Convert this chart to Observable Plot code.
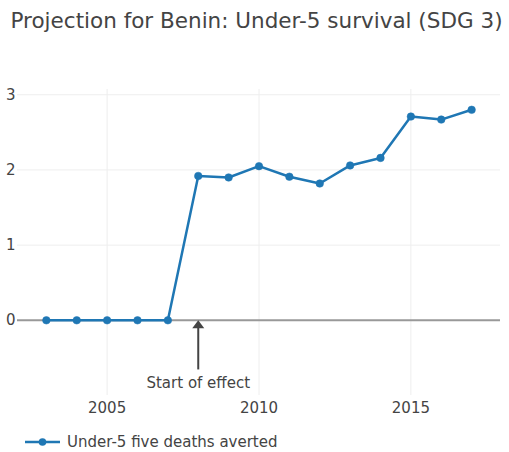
<!DOCTYPE html>
<html>
<head>
<meta charset="utf-8">
<script src="https://cdn.jsdelivr.net/npm/d3@7"></script>
<script src="https://cdn.jsdelivr.net/npm/@observablehq/plot@0.6"></script>
<style>
  html, body { margin: 0; padding: 0; background: #fff; }
  body { width: 509px; height: 452px; position: relative; overflow: hidden; font-family: "DejaVu Sans", Verdana, sans-serif; color: #444; }
  #title { position: absolute; left: 10.5px; top: 8px; font-size: 21.5px; white-space: nowrap; color: #444; }
  #chart { position: absolute; left: 0; top: 45px; }
  #legend { position: absolute; left: 25px; top: 433px; font-size: 15px; display: flex; align-items: center; white-space: nowrap; color: #444; }
  #legend svg { margin-right: 7px; }
</style>
</head>
<body>
<div id="title">Projection for Benin: Under-5 survival (SDG 3)</div>
<div id="chart"></div>
<div id="legend"></div>
<script>
const years = [2003, 2004, 2005, 2006, 2007, 2008, 2009, 2010, 2011, 2012, 2013, 2014, 2015, 2016, 2017];
const deathsAverted = [0, 0, 0, 0, 0, 1.92, 1.90, 2.05, 1.91, 1.82, 2.06, 2.16, 2.71, 2.67, 2.80];
const seriesName = "Under-5 five deaths averted";
const xTicks = [2005, 2010, 2015];
const yTicks = [0, 1, 2, 3];
const annotationYear = [2008];
const annotationTail = [-0.66];
const annotationTip = [0];
const annotationLabel = ["Start of effect"];
const annotationLabelY = [-0.84];

const data = years.map((y, i) => ({year: y, value: deathsAverted[i]}));
const annotation = annotationYear.map((y, i) => ({year: y, tail: annotationTail[i], tip: annotationTip[i], label: annotationLabel[i], labelY: annotationLabelY[i]}));

const lineColor = "#1f77b4";

// arrowhead symbol with its tip at the origin
const arrowHead = {
  draw(context, size) {
    context.moveTo(0, 0);
    context.lineTo(-6, 8);
    context.lineTo(6, 8);
    context.closePath();
  }
};

const chart = Plot.plot({
  width: 509,
  height: 380,
  marginTop: 44,
  marginBottom: 30,
  marginLeft: 17,
  marginRight: 9,
  style: {fontFamily: "DejaVu Sans, Verdana, sans-serif", fontSize: "15px", color: "#444", background: "transparent", overflow: "visible"},
  x: {domain: [2002.05, 2017.95], tickSize: 0, label: null},
  y: {domain: [-1, 3.07], tickSize: 0, label: null},
  marks: [
    Plot.gridX(xTicks, {stroke: "#eee", strokeOpacity: 1, strokeWidth: 1}),
    Plot.gridY(yTicks.filter(d => d !== 0), {stroke: "#eee", strokeOpacity: 1, strokeWidth: 1}),
    Plot.ruleY([0], {stroke: "#999", strokeWidth: 2}),
    Plot.axisX({ticks: xTicks, tickFormat: d => String(d), tickSize: 0, tickPadding: 7, label: null, fill: "#444"}),
    Plot.axisY({ticks: yTicks, tickFormat: d => String(d), tickSize: 0, tickPadding: 2, label: null, fill: "#444"}),
    Plot.line(data, {x: "year", y: "value", stroke: lineColor, strokeWidth: 2.5}),
    Plot.dot(data, {x: "year", y: "value", r: 3.8, fill: lineColor, stroke: lineColor, strokeWidth: 0.5}),
    Plot.ruleX(annotation, {x: "year", y1: "tail", y2: d => d.tip - 0.09, stroke: "#444", strokeWidth: 2}),
    Plot.dot(annotation, {x: "year", y: "tip", symbol: arrowHead, fill: "#444", stroke: "none"}),
    Plot.text(annotation, {x: "year", y: "labelY", text: "label", fill: "#444", fontSize: 15, textAnchor: "middle", lineAnchor: "middle"})
  ]
});
document.getElementById("chart").appendChild(chart);

// legend
const legend = document.getElementById("legend");
const sw = d3.create("svg").attr("width", 35).attr("height", 12);
sw.append("line").attr("x1", 0).attr("x2", 35).attr("y1", 6).attr("y2", 6).attr("stroke", lineColor).attr("stroke-width", 2.5);
sw.append("circle").attr("cx", 17.5).attr("cy", 6).attr("r", 3.8).attr("fill", lineColor);
legend.appendChild(sw.node());
const lt = document.createElement("span");
lt.textContent = seriesName;
legend.appendChild(lt);
</script>
</body>
</html>
